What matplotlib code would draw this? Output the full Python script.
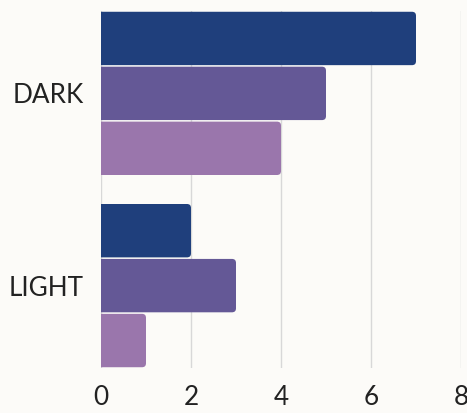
import matplotlib
matplotlib.use("Agg")
import matplotlib.pyplot as plt
from matplotlib.patches import FancyBboxPatch
import numpy as np

categories = ["DARK", "LIGHT"]
series_a = [7, 2]
series_b = [5, 3]
series_c = [4, 1]
x_ticks = [0, 2, 4, 6, 8]

colors = ["#1f3f7c", "#645896", "#9a76ac"]
bg = "#fcfbf8"

plt.rcParams["font.family"] = ["Lato", "DejaVu Sans"]

fig = plt.figure(figsize=(4.67, 4.13), dpi=100, facecolor=bg)
ax = fig.add_axes([101 / 467, 1 - 368 / 413, 360 / 467, 357 / 413])
ax.set_facecolor(bg)

n = 3
group = 6 / 7
h = group / n
y = np.arange(len(categories))

ax.set_xlim(0, 8)
ax.set_ylim(len(categories) - 1 + group / 2, -group / 2)

# rounding radius in x data units; aspect corrects for differing axis scales
px_x = 8 / 360
px_y = (len(categories) - 1 + group) / 357
radius = 4 * px_x
aspect = px_y / px_x

for i, vals in enumerate([series_a, series_b, series_c]):
    for yi, v in zip(y, vals):
        top = yi - group / 2 + i * h
        start = -0.3  # left side is clipped at the axis so only right corners show
        patch = FancyBboxPatch(
            (start, top + 0.004), v - start, h - 0.008,
            boxstyle=f"round,pad=0,rounding_size={radius}",
            mutation_aspect=aspect,
            facecolor=colors[i], edgecolor="none", zorder=3,
        )
        ax.add_patch(patch)

ax.set_xticks(x_ticks)
ax.set_xticklabels([str(t) for t in x_ticks])
ax.set_yticks(y)
ax.set_yticklabels(categories)
ax.grid(axis="x", color="#d8d8d8", linewidth=1, zorder=0)
ax.set_axisbelow(True)
for s in ax.spines.values():
    s.set_visible(False)
ax.tick_params(axis="both", length=0, labelsize=18.8, colors="#222222")
ax.tick_params(axis="x", pad=12)
ax.tick_params(axis="y", pad=12.5)

fig.savefig("out.png", dpi=100, facecolor=bg)
